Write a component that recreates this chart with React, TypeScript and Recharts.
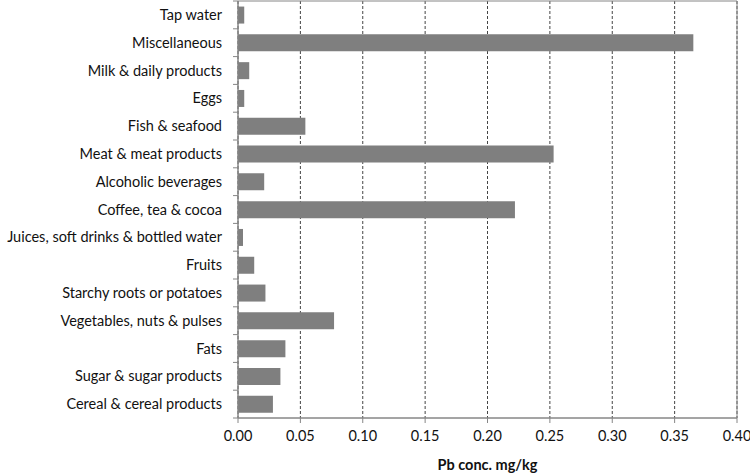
import {
  BarChart,
  Bar,
  XAxis,
  YAxis,
  CartesianGrid,
  ReferenceArea,
} from "recharts";

const categories = [
  "Tap water",
  "Miscellaneous",
  "Milk & daily products",
  "Eggs",
  "Fish & seafood",
  "Meat & meat products",
  "Alcoholic beverages",
  "Coffee, tea & cocoa",
  "Juices, soft drinks & bottled water",
  "Fruits",
  "Starchy roots or potatoes",
  "Vegetables, nuts & pulses",
  "Fats",
  "Sugar & sugar products",
  "Cereal & cereal products",
];

const pbValues = [
  0.005, 0.365, 0.009, 0.005, 0.054, 0.253, 0.021, 0.222, 0.004, 0.013, 0.022,
  0.077, 0.038, 0.034, 0.028,
];

const xTicks = [0, 0.05, 0.1, 0.15, 0.2, 0.25, 0.3, 0.35, 0.4];

const data = categories.map((name, i) => ({ name, pb: pbValues[i] }));

const FONT = "Lato, 'Open Sans', sans-serif";
const AXIS = "#868686";

// Excel style: labels at band centre, tick marks on band boundaries
const CategoryTick = (props: any) => {
  const { x, y, payload, index } = props;
  const off = payload.offset || 0;
  const axisX = x + 16;
  return (
    <g>
      <text
        x={x}
        y={y}
        dy={5}
        textAnchor="end"
        fontFamily={FONT}
        fontSize={14.5}
        fill="#111"
      >
        {payload.value}
      </text>
      {index === 0 && (
        <line x1={axisX - 5} x2={axisX} y1={y - off} y2={y - off} stroke={AXIS} />
      )}
      <line x1={axisX - 5} x2={axisX} y1={y + off} y2={y + off} stroke={AXIS} />
    </g>
  );
};

export default function App() {
  return (
    <div style={{ position: "absolute", left: 0, top: 0 }}>
      <BarChart
        width={750}
        height={473}
        data={data}
        layout="vertical"
        barCategoryGap="20%"
        margin={{ top: 1, right: 13, bottom: 0, left: 0 }}
      >
        <CartesianGrid
          horizontal={false}
          stroke="#444"
          strokeDasharray="3 2"
        />
        <XAxis
          type="number"
          domain={[0, 0.4]}
          ticks={xTicks}
          interval={0}
          tickFormatter={(v: number) => v.toFixed(2)}
          stroke={AXIS}
          tickSize={5}
          tickMargin={8}
          height={55}
          tick={{ fill: "#111", fontFamily: FONT, fontSize: 14.5 }}
          label={{
            value: "Pb conc. mg/kg",
            position: "insideBottom",
            offset: 3,
            fill: "#111",
            fontFamily: FONT,
            fontSize: 14.5,
            fontWeight: "bold",
          }}
        />
        <YAxis
          type="category"
          dataKey="name"
          width={238}
          tickLine={false}
          tickSize={5}
          tickMargin={11}
          interval={0}
          stroke={AXIS}
          tick={<CategoryTick />}
        />
        <ReferenceArea
          x1={0}
          x2={0.4}
          fill="none"
          fillOpacity={0}
          stroke={AXIS}
          strokeWidth={1}
        />
        <Bar dataKey="pb" fill="#7f7f7f" isAnimationActive={false} />
      </BarChart>
    </div>
  );
}
